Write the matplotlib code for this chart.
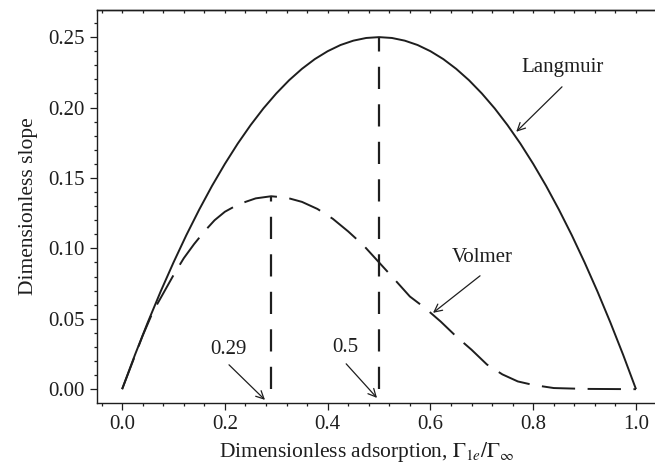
import matplotlib
matplotlib.use('Agg')
import matplotlib.pyplot as plt
from matplotlib.ticker import MultipleLocator, FormatStrFormatter

# values
langmuir_x = [0.0, 0.025, 0.05, 0.075, 0.1, 0.125, 0.15, 0.175, 0.2, 0.225, 0.25,
              0.275, 0.3, 0.325, 0.35, 0.375, 0.4, 0.425, 0.45, 0.475, 0.5,
              0.525, 0.55, 0.575, 0.6, 0.625, 0.65, 0.675, 0.7, 0.725, 0.75,
              0.775, 0.8, 0.825, 0.85, 0.875, 0.9, 0.925, 0.95, 0.975, 1.0]
langmuir_y = [0.0, 0.0244, 0.0475, 0.0694, 0.09, 0.1094, 0.1275, 0.1444, 0.16, 0.1744, 0.1875,
              0.1994, 0.21, 0.2194, 0.2275, 0.2344, 0.24, 0.2444, 0.2475, 0.2494, 0.25,
              0.2494, 0.2475, 0.2444, 0.24, 0.2344, 0.2275, 0.2194, 0.21, 0.1994, 0.1875,
              0.1744, 0.16, 0.1444, 0.1275, 0.1094, 0.09, 0.0694, 0.0475, 0.0244, 0.0]

volmer_x = [0.0, 0.02, 0.04, 0.06, 0.08, 0.1, 0.12, 0.14, 0.16, 0.18, 0.2, 0.22, 0.24,
            0.26, 0.29, 0.32, 0.35, 0.38, 0.41, 0.44, 0.47, 0.5, 0.53, 0.56, 0.59,
            0.62, 0.65, 0.68, 0.71, 0.74, 0.77, 0.8, 0.84, 0.9, 1.0]
volmer_y = [0.0, 0.019, 0.038, 0.055, 0.068, 0.081, 0.093, 0.103, 0.112, 0.120, 0.126, 0.130,
            0.133, 0.1355, 0.137, 0.136, 0.133, 0.128, 0.121, 0.112, 0.102, 0.090, 0.078,
            0.0658, 0.0575, 0.048, 0.0375, 0.028, 0.0175, 0.0105, 0.0055, 0.003, 0.0008,
            0.0002, 0.0]

peak_x = [0.29, 0.5]
peak_y = [0.137, 0.25]
peak_labels = ['0.29', '0.5']

plt.rcParams['font.family'] = ['Liberation Serif', 'DejaVu Serif']
plt.rcParams['mathtext.fontset'] = 'stix'
plt.rcParams['lines.scale_dashes'] = False
ink = '#1e1e1e'
fs = 15

fig = plt.figure(figsize=(6.55, 4.67), dpi=100)
ax = fig.add_axes([0.148, 0.138, 0.852, 0.841])

ax.plot(langmuir_x, langmuir_y, color=ink, lw=1.4, solid_capstyle='butt')
ax.plot(volmer_x, volmer_y, color=ink, lw=1.4, linestyle=(0, (24, 9)))
for px, py in zip(peak_x, peak_y):
    ax.plot([px, px], [0, py], color=ink, lw=1.6, linestyle=(0, (16, 11)))

ax.set_xlim(-0.049, 1.037)
ax.set_ylim(-0.0095, 0.2694)

ax.xaxis.set_major_locator(MultipleLocator(0.2))
ax.xaxis.set_minor_locator(MultipleLocator(0.04))
ax.xaxis.set_major_formatter(FormatStrFormatter('%.1f'))
ax.yaxis.set_major_locator(MultipleLocator(0.05))
ax.yaxis.set_minor_locator(MultipleLocator(0.01))
ax.yaxis.set_major_formatter(FormatStrFormatter('%.2f'))

ax.spines['right'].set_visible(False)
for s in ['left', 'bottom', 'top']:
    ax.spines[s].set_color(ink)
    ax.spines[s].set_linewidth(1.0)
ax.tick_params(which='both', direction='out', colors=ink, labelsize=fs, width=0.9)
ax.tick_params(which='major', length=5, pad=4)
ax.tick_params(which='minor', length=2.5)

top = ax.secondary_xaxis('top')
top.xaxis.set_major_locator(MultipleLocator(0.04))
top.tick_params(which='major', direction='in', length=2.5, width=0.9, colors=ink,
                labeltop=False)
top.spines['top'].set_linewidth(1.0)
top.spines['top'].set_color(ink)

ax.set_ylabel('Dimensionless slope', fontsize=fs + 0.5, color=ink, labelpad=7)
ax.set_xlabel(r'Dimensionless adsorption, $\Gamma_{1e}/\Gamma_{\infty}$',
              fontsize=fs + 0.5, color=ink)
ax.xaxis.set_label_coords(0.484, -0.095)

arrow = dict(arrowstyle='->', color=ink, lw=0.9, shrinkA=0, shrinkB=0,
             mutation_scale=14)
ax.text(0.858, 0.2282, 'Langmuir', fontsize=fs, color=ink, ha='center', va='center')
ax.annotate('', xy=(0.767, 0.1828), xytext=(0.856, 0.2147), arrowprops=arrow)
ax.text(0.700, 0.0933, 'Volmer', fontsize=fs, color=ink, ha='center', va='center')
ax.annotate('', xy=(0.605, 0.0542), xytext=(0.6965, 0.0805), arrowprops=arrow)

ax.text(0.206, 0.0279, peak_labels[0], fontsize=fs, color=ink, ha='center', va='center')
ax.annotate('', xy=(0.278, -0.0076), xytext=(0.208, 0.0173), arrowprops=arrow)
ax.text(0.434, 0.0293, peak_labels[1], fontsize=fs, color=ink, ha='center', va='center')
ax.annotate('', xy=(0.496, -0.0062), xytext=(0.436, 0.018), arrowprops=arrow)

fig.savefig('out.png', dpi=100)
